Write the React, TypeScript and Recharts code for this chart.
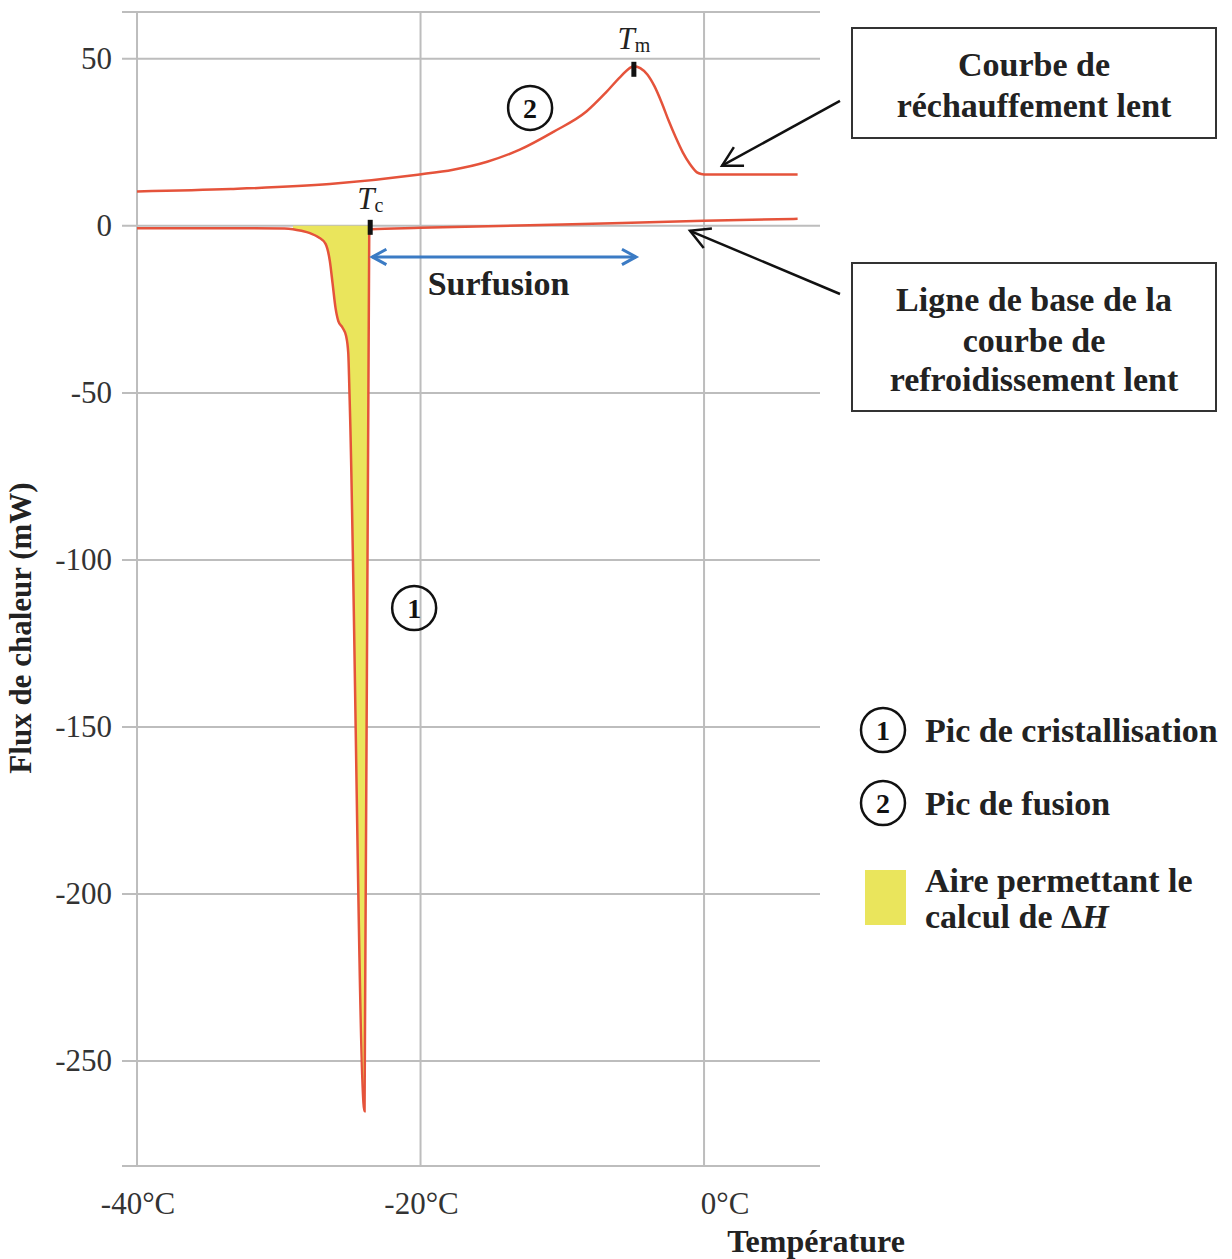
import React from 'react';
import {
  ComposedChart,
  Line,
  Area,
  XAxis,
  YAxis,
  CartesianGrid,
  ReferenceLine,
  ReferenceDot,
} from 'recharts';

// heating curve (courbe 2)
const heatTemp = [-40, -33.4, -26.4, -20.2, -17.7, -15.3, -13, -10.6, -8.3, -6.9, -5.9, -4.95, -4.5, -4.0, -3.5, -3.0, -2.5, -2.0, -1.5, -1.0, -0.5, -0.2, 0, 3, 6.6];
const heatFlux = [10.3, 11.0, 12.5, 15.3, 16.8, 19.2, 22.8, 28.2, 34.2, 40.0, 44.6, 47.8, 47.2, 45.3, 41.8, 37.0, 31.5, 26.5, 22.0, 18.5, 16.0, 15.5, 15.4, 15.4, 15.4];

// cooling curve (courbe 1, crystallisation peak)
const coolTemp = [-40, -32, -29.6, -29.0, -28.4, -27.8, -27.2, -26.7, -26.4, -26.2, -26.0, -25.8, -25.5, -25.25, -25.1, -25.0, -23.95, -23.62, -23.5, -20, -10, 0, 6.6];
const coolFlux = [-0.7, -0.7, -0.8, -1.0, -1.5, -2.2, -3.4, -5.4, -10.5, -17.4, -24.5, -28.5, -30.5, -33, -38, -52, -265, -3, -1.0, -0.6, 0.4, 1.5, 2.1];

const xTicks = [-40, -20, 0];
const yTicks = [-250, -200, -150, -100, -50, 0, 50];

const TC = -23.55;
const TM = -4.95;
const AREA_START = -29.0;

const heatData = heatTemp.map((t, i) => ({ t, flux: heatFlux[i] }));
const coolData = coolTemp.map((t, i) => ({ t, flux: coolFlux[i] }));
const areaData = coolData.filter((d) => d.t >= AREA_START && d.t <= TC + 0.1);

const RED = '#E5533B';
const YELLOW = '#EAE55C';
const BLUE = '#3B7BC4';
const GRID = '#BDBDBD';
const FONT = '"Liberation Serif", "Times New Roman", serif';

const XTick = ({ x, y, payload }: any) => (
  <text
    x={x + (payload.value === 0 ? 21 : 1)}
    y={y}
    dy={40}
    textAnchor="middle"
    fontFamily={FONT}
    fontSize={31}
    fill="#333"
  >
    {payload.value}°C
  </text>
);

const YTick = ({ x, y, payload }: any) => (
  <text x={x - 2} y={y} dy={10} textAnchor="end" fontFamily={FONT} fontSize={31} fill="#333">
    {payload.value}
  </text>
);

const markRect = ({ cx, cy }: any) => (
  <rect x={cx - 2.5} y={cy - 7} width={5} height={15} fill="#111" />
);

const tempLabel = (sub: string) => ({ cx, cy }: any) => (
  <text x={cx} y={cy} textAnchor="middle" fontFamily={FONT} fill="#222">
    <tspan fontSize={31} fontStyle="italic">T</tspan>
    <tspan fontSize={20} dy={3}>{sub}</tspan>
  </text>
);

const circled = (n: string) => ({ cx, cy }: any) => (
  <g>
    <circle cx={cx} cy={cy} r={22} fill="none" stroke="#111" strokeWidth={2.5} />
    <text x={cx} y={cy + 10} textAnchor="middle" fontFamily={FONT} fontWeight="bold" fontSize={28} fill="#111">
      {n}
    </text>
  </g>
);

const textAt = (s: string) => ({ cx, cy }: any) => (
  <text x={cx} y={cy + 11} textAnchor="middle" fontFamily={FONT} fontWeight="bold" fontSize={34} fill="#222">
    {s}
  </text>
);

const chevron = (x: number, y: number, ang: number, len: number, color: string, w: number) => {
  const a1 = ang + Math.PI - 0.5;
  const a2 = ang + Math.PI + 0.5;
  return (
    <path
      d={`M${x + len * Math.cos(a1)},${y + len * Math.sin(a1)} L${x},${y} L${x + len * Math.cos(a2)},${y + len * Math.sin(a2)}`}
      fill="none"
      stroke={color}
      strokeWidth={w}
    />
  );
};

const doubleArrow = ({ x1, y1, x2, y2 }: any) => {
  const ang = Math.atan2(y2 - y1, x2 - x1);
  return (
    <g>
      <line x1={x1} y1={y1} x2={x2} y2={y2} stroke={BLUE} strokeWidth={3} />
      {chevron(x2, y2, ang, 16, BLUE, 3)}
      {chevron(x1, y1, ang + Math.PI, 16, BLUE, 3)}
    </g>
  );
};

const pointerArrow = ({ x1, y1, x2, y2 }: any) => {
  const ang = Math.atan2(y2 - y1, x2 - x1);
  return (
    <g>
      <line x1={x1} y1={y1} x2={x2} y2={y2} stroke="#111" strokeWidth={2.5} />
      {chevron(x2, y2, ang, 22, '#111', 2.5)}
    </g>
  );
};

const boxText = { fontFamily: FONT, fontWeight: 'bold' as const, fontSize: 34, fill: '#222' };

export default function App() {
  return (
    <div style={{ position: 'absolute', left: 0, top: 0, width: 1232, height: 1259, background: '#fff' }}>
      <ComposedChart width={1232} height={1259} margin={{ top: 12, right: 412, bottom: 33, left: 0 }}>
        <CartesianGrid stroke={GRID} strokeWidth={2} vertical={false} />
        <XAxis
          type="number"
          dataKey="t"
          domain={[-41.06, 8.18]}
          ticks={xTicks}
          allowDataOverflow
          axisLine={{ stroke: GRID, strokeWidth: 2 }}
          tickLine={false}
          tick={<XTick />}
          height={60}
        />
        <YAxis
          type="number"
          dataKey="flux"
          domain={[-281.4, 64]}
          ticks={yTicks}
          allowDataOverflow
          width={122}
          axisLine={false}
          tickLine={false}
          tick={<YTick />}
        />
        <ReferenceLine y={64} stroke={GRID} strokeWidth={2} />
        {xTicks.map((t) => (
          <ReferenceLine key={t} x={t} stroke={GRID} strokeWidth={2} />
        ))}

        <Area
          data={areaData}
          dataKey="flux"
          type="monotone"
          baseValue={0}
          stroke="none"
          fill={YELLOW}
          fillOpacity={1}
          isAnimationActive={false}
        />
        <Line data={coolData} dataKey="flux" type="monotone" stroke={RED} strokeWidth={2.5} dot={false} isAnimationActive={false} />
        <Line data={heatData} dataKey="flux" type="monotone" stroke={RED} strokeWidth={2.5} dot={false} isAnimationActive={false} />

        <ReferenceDot x={TC} y={-0.3} r={0} shape={markRect} ifOverflow="visible" />
        <ReferenceDot x={TM} y={47} r={0} shape={markRect} ifOverflow="visible" />
        <ReferenceDot x={TC} y={5} r={0} shape={tempLabel('c')} ifOverflow="visible" />
        <ReferenceDot x={TM} y={53} r={0} shape={tempLabel('m')} ifOverflow="visible" />

        <ReferenceDot x={-12.27} y={35.3} r={0} shape={circled('2')} ifOverflow="visible" />
        <ReferenceDot x={-20.45} y={-114.4} r={0} shape={circled('1')} ifOverflow="visible" />

        <ReferenceLine
          segment={[{ x: -23.4, y: -9.3 }, { x: -4.8, y: -9.3 }]}
          shape={doubleArrow}
          ifOverflow="visible"
        />
        <ReferenceDot x={-14.5} y={-17.4} r={0} shape={textAt('Surfusion')} ifOverflow="visible" />

        <ReferenceLine
          segment={[{ x: 9.59, y: 37.4 }, { x: 1.27, y: 18.0 }]}
          shape={pointerArrow}
          ifOverflow="visible"
        />
        <ReferenceLine
          segment={[{ x: 9.59, y: -20.4 }, { x: -0.99, y: -1.5 }]}
          shape={pointerArrow}
          ifOverflow="visible"
        />
      </ComposedChart>

      <svg width={1232} height={1259} style={{ position: 'absolute', left: 0, top: 0, pointerEvents: 'none' }}>
        <text
          transform="translate(31,628) rotate(-90)"
          textAnchor="middle"
          fontFamily={FONT}
          fontWeight="bold"
          fontSize={31}
          fill="#222"
        >
          Flux de chaleur (mW)
        </text>
        <text x={816} y={1252} textAnchor="middle" fontFamily={FONT} fontWeight="bold" fontSize={32} fill="#222">
          Température
        </text>

        <rect x={852} y={28} width={364} height={110} fill="#fff" stroke="#333" strokeWidth={2} />
        <text x={1034} y={76} textAnchor="middle" {...boxText}>Courbe de</text>
        <text x={1034} y={117} textAnchor="middle" {...boxText}>réchauffement lent</text>

        <rect x={852} y={263} width={364} height={148} fill="#fff" stroke="#333" strokeWidth={2} />
        <text x={1034} y={311} textAnchor="middle" {...boxText}>Ligne de base de la</text>
        <text x={1034} y={352} textAnchor="middle" {...boxText}>courbe de</text>
        <text x={1034} y={391} textAnchor="middle" {...boxText}>refroidissement lent</text>

        <circle cx={883} cy={730} r={22} fill="none" stroke="#111" strokeWidth={2.5} />
        <text x={883} y={740} textAnchor="middle" fontFamily={FONT} fontWeight="bold" fontSize={28} fill="#111">1</text>
        <text x={925} y={742} {...boxText}>Pic de cristallisation</text>

        <circle cx={883} cy={803} r={22} fill="none" stroke="#111" strokeWidth={2.5} />
        <text x={883} y={813} textAnchor="middle" fontFamily={FONT} fontWeight="bold" fontSize={28} fill="#111">2</text>
        <text x={925} y={815} {...boxText}>Pic de fusion</text>

        <rect x={865} y={870} width={41} height={55} fill={YELLOW} />
        <text x={925} y={892} {...boxText}>Aire permettant le</text>
        <text x={925} y={928} {...boxText}>
          calcul de Δ<tspan fontStyle="italic">H</tspan>
        </text>
      </svg>
    </div>
  );
}
